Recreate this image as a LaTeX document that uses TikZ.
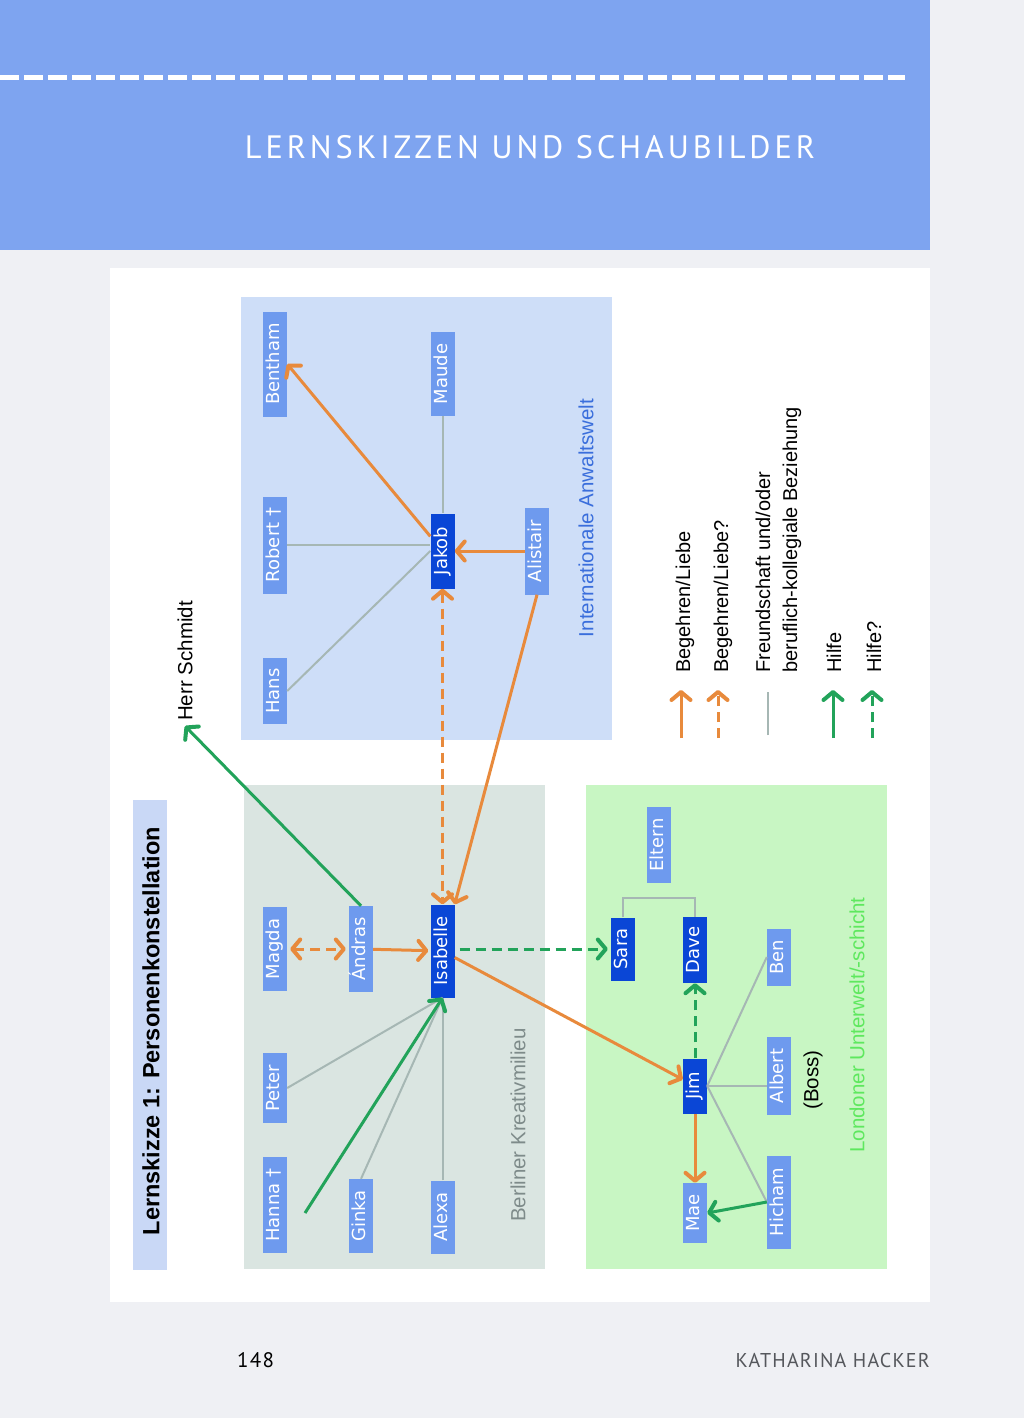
\documentclass[tikz,border=0pt]{standalone}
\usepackage{fontspec}
\usepackage{graphicx}
\setmainfont{Liberation Sans}
\newfontfamily\nodefont{DejaVu Sans}
\newfontfamily\headfont[LetterSpace=12]{PT Sans}
\newfontfamily\footfont[LetterSpace=6]{PT Sans}
\usetikzlibrary{arrows.meta,calc}
\definecolor{pagebg}{HTML}{EFF0F4}
\definecolor{headblue}{HTML}{7EA4F0}
\definecolor{grpblue}{HTML}{CEDEF8}
\definecolor{grpberlin}{HTML}{DAE5E1}
\definecolor{grplondon}{HTML}{C8F6C3}
\definecolor{titlebox}{HTML}{C9D8F6}
\definecolor{nodelight}{HTML}{6E9AEE}
\definecolor{nodedark}{HTML}{0A46D6}
\definecolor{arrorange}{HTML}{E88A3C}
\definecolor{arrgreen}{HTML}{22A35A}
\definecolor{linegray}{HTML}{A6B7B4}
\definecolor{lblblue}{HTML}{3A6EDC}
\definecolor{lblgray}{HTML}{7E8B8A}
\definecolor{lblgreen}{HTML}{5EE85E}
\definecolor{footgray}{HTML}{55575C}
\begin{document}
\begin{tikzpicture}[x=1pt,y=-1pt,
  person/.style={rotate=90, fill=nodelight, text=white, minimum height=24pt,
    inner sep=0pt, text height=13pt, text depth=3.5pt,
    font=\nodefont\fontsize{18}{18}\selectfont},
  keyperson/.style={person, fill=nodedark},
  tip/.style={-{Straight Barb[length=8pt,width=19pt,line width=4pt,line cap=round,line join=round]}},
  dtip/.style={{Straight Barb[length=8pt,width=19pt,line width=4pt,line cap=round,line join=round]}-{Straight Barb[length=8pt,width=19pt,line width=4pt,line cap=round,line join=round]}},
  love/.style={draw=arrorange, line width=3pt, tip},
  lovedash/.style={draw=arrorange, line width=3pt, dash pattern=on 10pt off 6pt},
  help/.style={draw=arrgreen, line width=3pt, tip},
  helpdash/.style={draw=arrgreen, line width=3pt, dash pattern=on 10pt off 6pt, tip},
  friend/.style={draw=linegray, line width=2pt},
  lbl/.style={rotate=90, inner sep=0pt, font=\fontsize{20.5}{24}\selectfont},
  legendtext/.style={rotate=90, anchor=west, inner sep=0pt, font=\fontsize{20}{27}\selectfont, align=left}
]
\useasboundingbox (0,0) rectangle (1024,1418);
% page
\fill[pagebg] (0,0) rectangle (1024,1418);
\fill[headblue] (0,0) rectangle (930,250);
\draw[white, line width=5pt, dash pattern=on 19pt off 5pt] (0,78) -- (905,78);
\node[text=white, inner sep=0pt] (header) at (530,147)
  {\resizebox{570pt}{!}{\headfont\fontsize{32}{32}\selectfont LERNSKIZZEN UND SCHAUBILDER}};
\fill[white] (110,268) rectangle (930,1302);
% group boxes
\fill[grpblue] (241,297) rectangle (612,740);
\fill[grpberlin] (244,785) rectangle (545,1269);
\fill[grplondon] (586,785) rectangle (887,1269);
% title
\node[rotate=90, fill=titlebox, minimum width=470pt, minimum height=34pt, inner sep=0pt] (titlebg) at (150,1035) {};
\node[rotate=90, inner sep=0pt, font=\bfseries\fontsize{23.5}{23.5}\selectfont] (title) at (151,1031) {Lernskizze 1: Personenkonstellation};
% group labels
\node[lbl, text=lblblue] (lblint) at (586,518) {Internationale Anwaltswelt};
\node[lbl, text=lblgray] (lblber) at (518,1125) {Berliner Kreativmilieu};
\node[lbl, text=lblgreen] (lbllon) at (857,1025) {Londoner Unterwelt/-schicht};
\node[lbl] (boss) at (813,1080) {(Boss)};
\node[lbl, inner sep=5pt] (schmidt) at (185,661) {Herr Schmidt};
% people: Anwaltswelt
\node[person, minimum width=105pt] (bentham) at (275,364) {Bentham};
\node[person, minimum width=97pt] (robert) at (275,545) {Robert †};
\node[person, minimum width=66pt] (hans) at (275,691) {Hans};
\node[person, minimum width=84pt] (maude) at (442.5,374) {Maude};
\node[keyperson, minimum width=75pt] (jakob) at (442.5,551) {Jakob};
\node[person, minimum width=87pt] (alistair) at (537,551) {Alistair};
% people: Berlin
\node[person, minimum width=84pt] (magda) at (275,949) {Magda};
\node[person, minimum width=86pt] (andras) at (361,949) {Ándras};
\node[keyperson, minimum width=93pt] (isabelle) at (442.5,951) {Isabelle};
\node[person, minimum width=70pt] (peter) at (275,1088) {Peter};
\node[person, minimum width=96pt] (hanna) at (275,1205) {Hanna †};
\node[person, minimum width=74pt] (ginka) at (361,1216) {Ginka};
\node[person, minimum width=73pt] (alexa) at (442.5,1217) {Alexa};
% people: London
\node[person, minimum width=76pt] (eltern) at (659,845) {Eltern};
\node[keyperson, minimum width=63pt] (sara) at (623,949) {Sara};
\node[keyperson, minimum width=66pt] (dave) at (695,950) {Dave};
\node[person, minimum width=57pt] (ben) at (779,957) {Ben};
\node[keyperson, minimum width=55pt] (jim) at (695,1086) {Jim};
\node[person, minimum width=78pt] (albert) at (779,1076) {Albert};
\node[person, minimum width=93pt] (hicham) at (779,1202) {Hicham};
\node[person, minimum width=60pt] (mae) at (695,1213) {Mae};
% friendship lines
\draw[friend] (hans.south) -- (jakob.north);
\draw[friend] (robert) -- (robert -| jakob.north);
\draw[friend] (maude) -- (jakob);
\draw[friend] (peter.south) -- (isabelle.west);
\draw[friend] (ginka.east) -- (isabelle.west);
\draw[friend] (alexa) -- (isabelle);
\draw[friend] (sara.east) -- ++(0,-19) -| (dave.east);
\draw[friend] (jim.south) -- (ben.north);
\draw[friend] (jim.south) -- (jim.south -| albert.north);
\draw[friend] (jim.south) -- (hicham.north);
% love
\draw[love] (jakob) -- (bentham.south);
\draw[love] (alistair) -- (jakob);
\draw[love] (alistair.west) -- (isabelle.south east);
\draw[lovedash, dtip] (jakob) -- (isabelle);
\draw[lovedash, dtip, shorten <=3pt, shorten >=3pt] (magda) -- (andras);
\draw[love, shorten >=2pt] (andras) -- (isabelle);
\draw[love] (isabelle) -- (jim);
\draw[love] (jim) -- (mae);
% help
\draw[help] (andras.east) -- (schmidt.west);
\coordinate (hannahelp) at (305,1213);
\draw[help] (hannahelp) -- (isabelle.west);
\draw[helpdash, shorten <=5pt, shorten >=3pt] (isabelle.south |- sara) -- (sara);
\draw[helpdash] (jim) -- (dave);
\draw[help] (hicham.north) -- (mae.south);
% legend
\coordinate (lg1a) at (681,738); \coordinate (lg1b) at (681,690);
\coordinate (lg2a) at (718,738); \coordinate (lg2b) at (718,690);
\coordinate (lg3a) at (768,735); \coordinate (lg3b) at (768,692);
\coordinate (lg4a) at (833,738); \coordinate (lg4b) at (833,690);
\coordinate (lg5a) at (872,738); \coordinate (lg5b) at (872,690);
\draw[love] (lg1a) -- (lg1b);
\draw[lovedash, tip] (lg2a) -- (lg2b);
\draw[friend] (lg3a) -- (lg3b);
\draw[help] (lg4a) -- (lg4b);
\draw[helpdash] (lg5a) -- (lg5b);
\node[legendtext] (lt1) at (685,673) {Begehren/Liebe};
\node[legendtext] (lt2) at (723,673) {Begehren/Liebe?};
\node[legendtext] (lt3) at (778.5,673) {Freundschaft und/oder\\beruflich-kollegiale Beziehung};
\node[legendtext] (lt4) at (834,673) {Hilfe};
\node[legendtext] (lt5) at (874,673) {Hilfe?};
% footer
\node[inner sep=0pt, anchor=west] (pagenum) at (237,1360) {\footfont\fontsize{21}{21}\selectfont 148};
\node[inner sep=0pt, anchor=east, text=footgray] (author) at (930,1360) {\footfont\fontsize{20}{20}\selectfont KATHARINA HACKER};
\end{tikzpicture}
\end{document}
